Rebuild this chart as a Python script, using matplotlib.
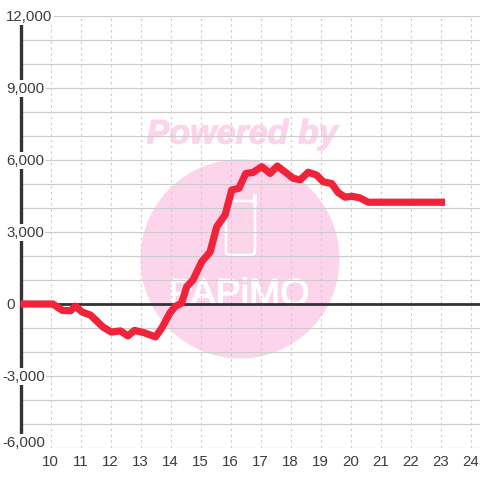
import matplotlib
matplotlib.use('Agg')
import matplotlib.pyplot as plt
import matplotlib.patheffects as pe
from matplotlib.patches import Circle, FancyBboxPatch
from matplotlib.transforms import blended_transform_factory

# %% data
hours = [9, 10.08, 10.4, 10.67, 10.83, 11.05, 11.33, 11.75, 12.03, 12.33, 12.58, 12.8, 13.13,
         13.5, 13.71, 13.98, 14.15, 14.37, 14.54, 14.75, 15.04, 15.32, 15.54, 15.82, 16.04,
         16.28, 16.51, 16.75, 17.04, 17.32, 17.56, 18.09, 18.32, 18.59, 18.87, 19.09, 19.37,
         19.59, 19.82, 20.04, 20.32, 20.59, 23.15]
values = [0, 0, -270, -280, -90, -330, -460, -960, -1170, -1120, -1330, -1100, -1200,
          -1370, -1000, -375, -110, 40, 720, 1000, 1760, 2170, 3220, 3710, 4750,
          4820, 5440, 5480, 5720, 5440, 5750, 5240, 5170, 5490, 5370, 5090, 5020,
          4640, 4450, 4490, 4420, 4240, 4240]
x_ticks = list(range(10, 25))
y_grid = list(range(-6000, 13000, 1000))
y_labelled = [12000, 9000, 6000, 3000, 0, -3000, -6000]

pink = '#fcd5ec'
dark = '#333333'
grey = '#cccccc'
text_col = '#3c3c3c'
plt.rcParams['font.family'] = ['Liberation Sans', 'DejaVu Sans']

fig = plt.figure(figsize=(4.8, 4.8), dpi=100, facecolor='white')

# %% watermark sits under the chart, in pixel coordinates
wm = fig.add_axes([0, 0, 1, 1], zorder=0)
wm.set_xlim(0, 480)
wm.set_ylim(480, 0)
wm.axis('off')
wm.add_patch(Circle((240, 259), 99.5, color=pink, lw=0))
wm.text(242, 135, 'Powered by', color=pink, fontsize=24.5, fontweight='bold', fontstyle='italic',
        ha='center', va='center', path_effects=[pe.withStroke(linewidth=0.8, foreground=pink)])
wm.add_patch(FancyBboxPatch((226, 201), 29, 54, boxstyle='round,pad=0,rounding_size=4',
                            fc='none', ec='white', lw=1.8))
wm.plot([255, 255], [196, 204], color='white', lw=3, solid_capstyle='round')
wm.text(239, 305, 'PAPiMO', color='white', fontsize=27, ha='center', va='baseline',
        path_effects=[pe.withStroke(linewidth=1, foreground='white')])

# %% main chart
ax = fig.add_axes([20.5 / 480, 32 / 480, 459.5 / 480, 432 / 480], zorder=1)
ax.patch.set_alpha(0)
ax.set_xlim(9, 9 + 459.5 / 30)
ax.set_ylim(-6000, 12000)
for s in ax.spines.values():
    s.set_visible(False)

ax.set_yticks(y_grid)
ax.set_yticklabels([])
ax.set_xticks(x_ticks)
ax.set_xticklabels([str(h) for h in x_ticks], fontsize=10.8, color=text_col)
ax.tick_params(length=0, axis='both')
ax.tick_params(axis='x', pad=5)
ax.grid(axis='y', color=grey, lw=0.85, zorder=1)
ax.grid(axis='x', color=grey, lw=0.8, ls=(0, (2.2, 3)), zorder=1)
ax.set_axisbelow(True)

ax.axhline(0, color=dark, lw=2, zorder=2)
ax.axvline(9, color=dark, lw=2.4, zorder=2, clip_on=False)
ax.plot(hours, values, color='#f1233a', lw=5.2, solid_joinstyle='round', solid_capstyle='butt',
        zorder=3, clip_on=False)

# labels have a white box that cuts the axis line and the grid
tr = blended_transform_factory(fig.transFigure, ax.transData)
for v in y_labelled:
    left = 6 if v >= 0 else 2
    pos = v - 40 if v != -6000 else -5790
    ax.text(left / 480, pos, f'{v:,}', transform=tr, fontsize=10.8, color=text_col, ha='left',
            va='center', zorder=4, clip_on=False,
            bbox=dict(fc='white', ec='none', boxstyle='square,pad=0.1') if v != 0 else None)

fig.savefig('out.png', dpi=100, facecolor='white')
